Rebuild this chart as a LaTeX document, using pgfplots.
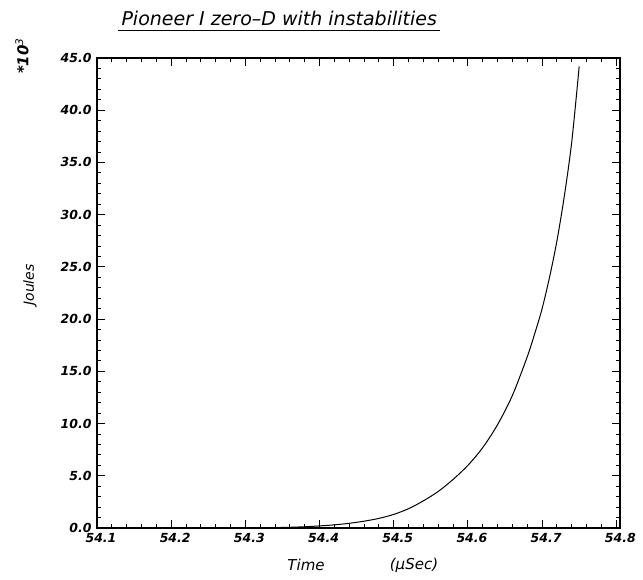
\documentclass[border=0pt]{standalone}
\usepackage{pgfplots}
\pgfplotsset{compat=1.18}
\usepackage{fontspec}
\setmainfont{DejaVu Sans}
\begin{document}
\begin{tikzpicture}
  \path (-97pt,-52pt) rectangle (546pt,528pt);
  \begin{axis}[
      at={(0pt,0pt)}, anchor=south west,
      scale only axis, width=523pt, height=470pt,
      xmin=54.1, xmax=54.805, ymin=0, ymax=45,
      xtick={54.1,54.2,...,54.8}, ytick={0,5,...,45},
      minor x tick num=4, minor y tick num=4,
      tick align=inside, major tick length=8pt, minor tick length=4pt,
      xticklabels={54.1,54.2,54.3,54.4,54.5,54.6,54.7,54.8},
      yticklabels={0.0,5.0,10.0,15.0,20.0,25.0,30.0,35.0,40.0,45.0},
      ticklabel style={font=\fontsize{12.5}{12.5}\selectfont\bfseries\itshape},
      x tick label style={xshift=4pt, yshift=-2pt},
      y tick label style={xshift=-2pt},
      axis line style={line width=1.2pt},
      every tick/.style={black, line width=0.9pt},
      clip=false,
    ]
    \addplot[black, line width=1pt, smooth, tension=0.5] coordinates {
      (54.10,0.0) (54.20,0.0) (54.30,0.01) (54.35,0.05) (54.38,0.12)
      (54.40,0.2) (54.42,0.3) (54.44,0.45) (54.46,0.65) (54.48,0.92)
      (54.50,1.3) (54.52,1.85) (54.54,2.6) (54.56,3.5) (54.58,4.65)
      (54.60,6.0) (54.62,7.7) (54.64,9.9) (54.66,12.7) (54.68,16.4)
      (54.69,18.6) (54.70,21.0) (54.71,24.0) (54.72,27.5) (54.73,31.8)
      (54.74,37.0) (54.75,44.2)
    };
  \end{axis}
  \node[anchor=west, font=\fontsize{19}{19}\selectfont\itshape] (t) at (21pt,510pt) {Pioneer I zero--D with instabilities};
  \draw[line width=0.8pt] ([yshift=-2pt]t.south west) -- ([yshift=-2pt]t.south east);
  \node[rotate=90, font=\fontsize{14}{14}\selectfont\itshape] at (-67pt,243pt) {Joules};
  \node[rotate=90, font=\fontsize{15}{15}\selectfont\bfseries\itshape] at (-75pt,472pt) {*10$^{\mathit{3}}$};
  \node[font=\fontsize{15}{15}\selectfont\itshape] at (209pt,-37pt) {Time};
  \node[font=\fontsize{15}{15}\selectfont\itshape] at (317pt,-37pt) {(μSec)};
\end{tikzpicture}
\end{document}
